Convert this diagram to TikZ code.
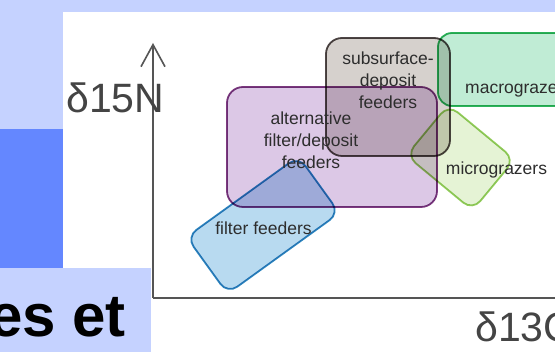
\documentclass[tikz,border=0pt]{standalone}
\usepackage{fontspec}
\setmainfont{Liberation Sans}
\usetikzlibrary{arrows.meta}
\definecolor{lightbg}{RGB}{197,210,255}
\definecolor{midbg}{RGB}{100,135,255}
\definecolor{txt}{RGB}{45,45,45}
\definecolor{axtxt}{RGB}{68,68,68}
\definecolor{axcol}{RGB}{85,85,85}
\definecolor{purpleF}{RGB}{220,200,230}
\definecolor{purpleB}{RGB}{125,58,128}
\definecolor{blueF}{RGB}{184,218,240}
\definecolor{blueB}{RGB}{46,134,191}
\definecolor{grayF}{RGB}{214,209,205}
\definecolor{grayB}{RGB}{80,72,72}
\definecolor{greenF}{RGB}{192,236,213}
\definecolor{greenB}{RGB}{45,179,92}
\definecolor{limeF}{RGB}{229,243,213}
\definecolor{limeB}{RGB}{149,205,94}
\begin{document}
\begin{tikzpicture}[x=1pt,y=-1pt,
  blob/.style={draw, line width=1.8pt, inner sep=0pt, rounded corners=#1},
  lbl/.style={font=\fontsize{17.5}{22}\selectfont, text=txt, align=center, inner sep=0pt},
  axlbl/.style={font=\fontsize{41}{41}\selectfont, text=axtxt, inner sep=0pt, anchor=base west},
  axisline/.style={draw=axcol, line width=1.6pt}]
\useasboundingbox (0,0) rectangle (555,352);
\clip (0,0) rectangle (555,352);
% background panels
\fill[white] (0,0) rectangle (555,352);
\fill[lightbg] (0,0) rectangle (555,12);
\fill[lightbg] (0,0) rectangle (63,129);
\fill[midbg] (0,129) rectangle (63,268);
\fill[lightbg] (0,268) rectangle (151,352);
\node[anchor=base east, font=\fontsize{60}{60}\selectfont\bfseries, inner sep=0pt] (title) at (126,337) {es et};
% axes
\coordinate (origin) at (153,298);
\coordinate (ytop) at (153,43);
\coordinate (xend) at (560,298);
\draw[axisline, -{Straight Barb[length=22pt,width=24pt,line width=1.6pt]}] (origin) -- (ytop);
\draw[axisline] (origin) -- (xend);
\node[axlbl] (ylab) at (66,113) {δ15N};
\node[axlbl] (xlab) at (475,342) {δ13C};
% groups
\begin{scope}[blend mode=multiply]
\node[blob=16pt, draw=purpleB, fill=purpleF, minimum width=210pt, minimum height=120pt] (altbox) at (332,147) {};
\node[blob=12pt, draw=blueB, fill=blueF, minimum width=138pt, minimum height=70pt, rotate=35.8] (filtbox) at (263,225) {};
\node[blob=16pt, draw=grayB, fill=grayF, minimum width=124pt, minimum height=118pt] (subbox) at (388,97) {};
\node[blob=14pt, draw=greenB, fill=greenF, minimum width=170pt, minimum height=73pt] (macbox) at (523,69.5) {};
\node[blob=12pt, draw=limeB, fill=limeF, minimum width=86pt, minimum height=66pt, rotate=-39.6] (micbox) at (460.5,157.5) {};
\end{scope}
% labels
\node[lbl] (subtxt) at (388,80) {subsurface-\\deposit\\feeders};
\node[lbl] (alttxt) at (311,140) {alternative\\filter/deposit\\feeders};
\node[lbl] (filttxt) at (263.5,228) {filter feeders};
\node[lbl] (mictxt) at (496.5,170) {micrograzers};
\node[lbl, anchor=west] (mactxt) at (465,91) {macrograzers};
\end{tikzpicture}
\end{document}
